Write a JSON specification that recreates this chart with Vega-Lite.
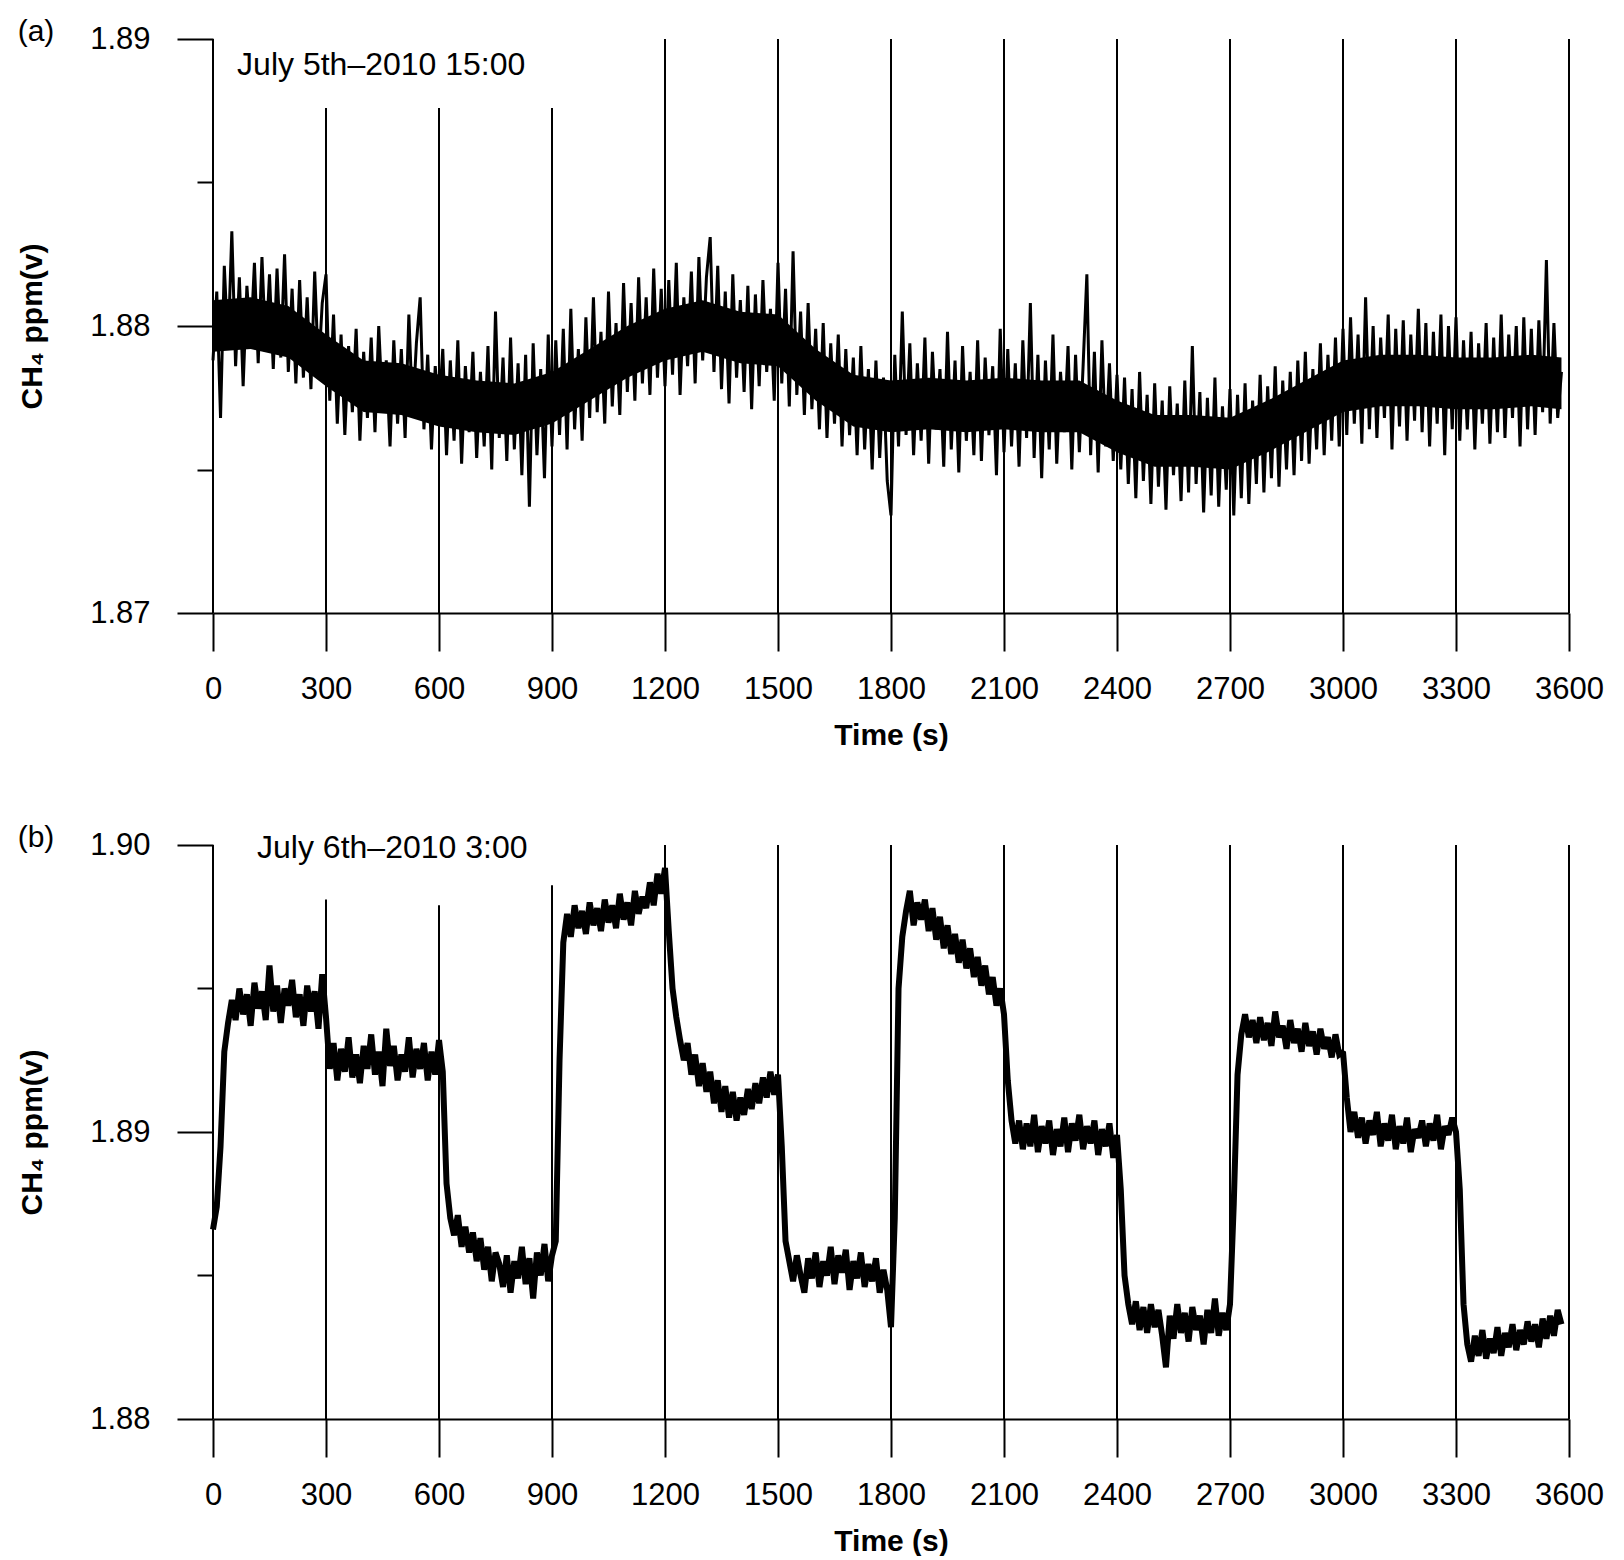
{
  "$schema": "https://vega.github.io/schema/vega-lite/v6.json",
  "background": "white",
  "padding": {"left": 17, "top": 17, "right": 20, "bottom": 0},
  "spacing": 73,
  "config": {
    "view": {"stroke": null},
    "font": "Liberation Sans",
    "axis": {
      "grid": false,
      "labelFont": "Liberation Sans", "labelFontSize": 31, "labelColor": "black",
      "titleFont": "Liberation Sans", "titleFontSize": 30, "titleFontWeight": "bold", "titleColor": "black",
      "tickColor": "black", "tickWidth": 2, "domainColor": "black", "domainWidth": 2,
      "labelOverlap": false
    },
    "axisX": {"tickSize": 38, "labelPadding": 23, "titlePadding": 16, "format": "d", "labelFlush": false},
    "axisY": {"labelPadding": 27, "titlePadding": 42, "domain": false},
    "title": {"font": "Liberation Sans", "fontSize": 30, "fontWeight": "normal", "color": "black", "anchor": "start", "frame": "bounds", "offset": 0, "dy": 28}
  },
  "datasets": {
    "linesA": [{"t":0,"top":1.89},{"t":300,"top":1.8876},{"t":600,"top":1.8876},{"t":900,"top":1.8876},{"t":1200,"top":1.89},{"t":1500,"top":1.89},{"t":1800,"top":1.89},{"t":2100,"top":1.89},{"t":2400,"top":1.89},{"t":2700,"top":1.89},{"t":3000,"top":1.89},{"t":3300,"top":1.89},{"t":3600,"top":1.89}],
    "linesB": [{"t":0,"top":1.9},{"t":300,"top":1.8981},{"t":600,"top":1.8979},{"t":900,"top":1.8986},{"t":1200,"top":1.9},{"t":1500,"top":1.9},{"t":1800,"top":1.9},{"t":2100,"top":1.9},{"t":2400,"top":1.9},{"t":2700,"top":1.9},{"t":3000,"top":1.9},{"t":3300,"top":1.9},{"t":3600,"top":1.9}],
    "bandA": [
{"t":0,"lo":1.8791,"hi":1.8809},{"t":100,"lo":1.8792,"hi":1.881},{"t":200,"lo":1.8789,"hi":1.8807},{"t":300,"lo":1.8779,"hi":1.8797},{"t":400,"lo":1.877,"hi":1.8788},{"t":500,"lo":1.8769,"hi":1.8787},{"t":600,"lo":1.8765,"hi":1.8783},{"t":700,"lo":1.8763,"hi":1.8781},{"t":800,"lo":1.8762,"hi":1.878},{"t":900,"lo":1.8766,"hi":1.8784},
{"t":1000,"lo":1.8774,"hi":1.8792},{"t":1100,"lo":1.8782,"hi":1.88},{"t":1200,"lo":1.8788,"hi":1.8806},{"t":1300,"lo":1.8791,"hi":1.8809},{"t":1400,"lo":1.8787,"hi":1.8805},{"t":1500,"lo":1.8786,"hi":1.8804},{"t":1600,"lo":1.8774,"hi":1.8792},{"t":1700,"lo":1.8765,"hi":1.8783},{"t":1800,"lo":1.8763,"hi":1.8781},{"t":1900,"lo":1.8764,"hi":1.8782},
{"t":2000,"lo":1.8763,"hi":1.8781},{"t":2100,"lo":1.8764,"hi":1.8782},{"t":2200,"lo":1.8763,"hi":1.8781},{"t":2300,"lo":1.8763,"hi":1.8781},{"t":2400,"lo":1.8756,"hi":1.8774},{"t":2500,"lo":1.8751,"hi":1.8769},{"t":2600,"lo":1.8751,"hi":1.8769},{"t":2700,"lo":1.875,"hi":1.8768},{"t":2800,"lo":1.8756,"hi":1.8774},{"t":2900,"lo":1.8763,"hi":1.8781},
{"t":3000,"lo":1.877,"hi":1.8788},{"t":3100,"lo":1.8772,"hi":1.879},{"t":3200,"lo":1.8772,"hi":1.879},{"t":3300,"lo":1.8771,"hi":1.8789},{"t":3400,"lo":1.8771,"hi":1.8789},{"t":3500,"lo":1.8772,"hi":1.879},{"t":3580,"lo":1.8771,"hi":1.8789}
    ],
    "seriesA": [
{"t":0,"ppm":1.8788},{"t":10,"ppm":1.8812},{"t":20,"ppm":1.8768},{"t":30,"ppm":1.8821},{"t":40,"ppm":1.8792},{"t":50,"ppm":1.8833},{"t":60,"ppm":1.8786},{"t":70,"ppm":1.8817},{"t":80,"ppm":1.8779},{"t":90,"ppm":1.8814},
{"t":100,"ppm":1.8794},{"t":110,"ppm":1.8822},{"t":120,"ppm":1.8787},{"t":130,"ppm":1.8824},{"t":140,"ppm":1.8791},{"t":150,"ppm":1.8818},{"t":160,"ppm":1.8785},{"t":170,"ppm":1.882},{"t":180,"ppm":1.8789},{"t":190,"ppm":1.8825},
{"t":200,"ppm":1.8784},{"t":210,"ppm":1.8813},{"t":220,"ppm":1.878},{"t":230,"ppm":1.8816},{"t":240,"ppm":1.8782},{"t":250,"ppm":1.881},{"t":260,"ppm":1.8778},{"t":270,"ppm":1.8819},{"t":280,"ppm":1.8784},{"t":290,"ppm":1.8808},
{"t":300,"ppm":1.8818},{"t":310,"ppm":1.8774},{"t":320,"ppm":1.8804},{"t":330,"ppm":1.8766},{"t":340,"ppm":1.8797},{"t":350,"ppm":1.8762},{"t":360,"ppm":1.8793},{"t":370,"ppm":1.877},{"t":380,"ppm":1.8799},{"t":390,"ppm":1.876},
{"t":400,"ppm":1.8791},{"t":410,"ppm":1.8768},{"t":420,"ppm":1.8796},{"t":430,"ppm":1.8763},{"t":440,"ppm":1.88},{"t":450,"ppm":1.8771},{"t":460,"ppm":1.8788},{"t":470,"ppm":1.8758},{"t":480,"ppm":1.8795},{"t":490,"ppm":1.8766},
{"t":500,"ppm":1.8792},{"t":510,"ppm":1.8761},{"t":520,"ppm":1.8804},{"t":530,"ppm":1.8769},{"t":540,"ppm":1.8794},{"t":550,"ppm":1.881},{"t":560,"ppm":1.8764},{"t":570,"ppm":1.879},{"t":580,"ppm":1.8757},{"t":590,"ppm":1.8786},
{"t":600,"ppm":1.877},{"t":610,"ppm":1.8792},{"t":620,"ppm":1.8755},{"t":630,"ppm":1.8788},{"t":640,"ppm":1.876},{"t":650,"ppm":1.8795},{"t":660,"ppm":1.8752},{"t":670,"ppm":1.8786},{"t":680,"ppm":1.8763},{"t":690,"ppm":1.8791},
{"t":700,"ppm":1.8754},{"t":710,"ppm":1.8784},{"t":720,"ppm":1.8758},{"t":730,"ppm":1.8793},{"t":740,"ppm":1.875},{"t":750,"ppm":1.8805},{"t":760,"ppm":1.8761},{"t":770,"ppm":1.8789},{"t":780,"ppm":1.8753},{"t":790,"ppm":1.8796},
{"t":800,"ppm":1.8757},{"t":810,"ppm":1.8787},{"t":820,"ppm":1.8748},{"t":830,"ppm":1.879},{"t":840,"ppm":1.8737},{"t":850,"ppm":1.8794},{"t":860,"ppm":1.8755},{"t":870,"ppm":1.8785},{"t":880,"ppm":1.8747},{"t":890,"ppm":1.8797},
{"t":900,"ppm":1.8758},{"t":910,"ppm":1.8795},{"t":920,"ppm":1.8762},{"t":930,"ppm":1.8799},{"t":940,"ppm":1.8757},{"t":950,"ppm":1.8806},{"t":960,"ppm":1.8764},{"t":970,"ppm":1.8792},{"t":980,"ppm":1.876},{"t":990,"ppm":1.8803},
{"t":1000,"ppm":1.8768},{"t":1010,"ppm":1.881},{"t":1020,"ppm":1.877},{"t":1030,"ppm":1.8798},{"t":1040,"ppm":1.8766},{"t":1050,"ppm":1.8812},{"t":1060,"ppm":1.8772},{"t":1070,"ppm":1.8801},{"t":1080,"ppm":1.8769},{"t":1090,"ppm":1.8815},
{"t":1100,"ppm":1.8777},{"t":1110,"ppm":1.8808},{"t":1120,"ppm":1.8774},{"t":1130,"ppm":1.8817},{"t":1140,"ppm":1.878},{"t":1150,"ppm":1.881},{"t":1160,"ppm":1.8776},{"t":1170,"ppm":1.882},{"t":1180,"ppm":1.8782},{"t":1190,"ppm":1.8813},
{"t":1200,"ppm":1.8779},{"t":1210,"ppm":1.8816},{"t":1220,"ppm":1.8783},{"t":1230,"ppm":1.8822},{"t":1240,"ppm":1.8776},{"t":1250,"ppm":1.881},{"t":1260,"ppm":1.8786},{"t":1270,"ppm":1.8819},{"t":1280,"ppm":1.878},{"t":1290,"ppm":1.8824},
{"t":1300,"ppm":1.8788},{"t":1310,"ppm":1.8817},{"t":1320,"ppm":1.8831},{"t":1330,"ppm":1.8784},{"t":1340,"ppm":1.8821},{"t":1350,"ppm":1.8778},{"t":1360,"ppm":1.8812},{"t":1370,"ppm":1.8773},{"t":1380,"ppm":1.8818},{"t":1390,"ppm":1.8782},
{"t":1400,"ppm":1.8809},{"t":1410,"ppm":1.8777},{"t":1420,"ppm":1.8814},{"t":1430,"ppm":1.8771},{"t":1440,"ppm":1.8811},{"t":1450,"ppm":1.8779},{"t":1460,"ppm":1.8816},{"t":1470,"ppm":1.8784},{"t":1480,"ppm":1.8806},{"t":1490,"ppm":1.8774},
{"t":1500,"ppm":1.8822},{"t":1510,"ppm":1.878},{"t":1520,"ppm":1.8813},{"t":1530,"ppm":1.8772},{"t":1540,"ppm":1.8826},{"t":1550,"ppm":1.8776},{"t":1560,"ppm":1.8805},{"t":1570,"ppm":1.8769},{"t":1580,"ppm":1.8808},{"t":1590,"ppm":1.8771},
{"t":1600,"ppm":1.8799},{"t":1610,"ppm":1.8764},{"t":1620,"ppm":1.8801},{"t":1630,"ppm":1.8761},{"t":1640,"ppm":1.8794},{"t":1650,"ppm":1.8766},{"t":1660,"ppm":1.8797},{"t":1670,"ppm":1.8758},{"t":1680,"ppm":1.8792},{"t":1690,"ppm":1.8762},
{"t":1700,"ppm":1.8789},{"t":1710,"ppm":1.8755},{"t":1720,"ppm":1.8793},{"t":1730,"ppm":1.8757},{"t":1740,"ppm":1.8785},{"t":1750,"ppm":1.875},{"t":1760,"ppm":1.8788},{"t":1770,"ppm":1.8754},{"t":1780,"ppm":1.8782},{"t":1790,"ppm":1.8746},
{"t":1800,"ppm":1.8734},{"t":1810,"ppm":1.879},{"t":1820,"ppm":1.8758},{"t":1830,"ppm":1.8805},{"t":1840,"ppm":1.8762},{"t":1850,"ppm":1.8794},{"t":1860,"ppm":1.8755},{"t":1870,"ppm":1.8787},{"t":1880,"ppm":1.876},{"t":1890,"ppm":1.8796},
{"t":1900,"ppm":1.8752},{"t":1910,"ppm":1.8791},{"t":1920,"ppm":1.8764},{"t":1930,"ppm":1.8785},{"t":1940,"ppm":1.8751},{"t":1950,"ppm":1.8798},{"t":1960,"ppm":1.8757},{"t":1970,"ppm":1.8788},{"t":1980,"ppm":1.8749},{"t":1990,"ppm":1.8793},
{"t":2000,"ppm":1.876},{"t":2010,"ppm":1.8784},{"t":2020,"ppm":1.8755},{"t":2030,"ppm":1.8795},{"t":2040,"ppm":1.8753},{"t":2050,"ppm":1.8789},{"t":2060,"ppm":1.8762},{"t":2070,"ppm":1.8786},{"t":2080,"ppm":1.8748},{"t":2090,"ppm":1.8799},
{"t":2100,"ppm":1.8756},{"t":2110,"ppm":1.8792},{"t":2120,"ppm":1.8758},{"t":2130,"ppm":1.8787},{"t":2140,"ppm":1.8751},{"t":2150,"ppm":1.8795},{"t":2160,"ppm":1.8761},{"t":2170,"ppm":1.8808},{"t":2180,"ppm":1.8754},{"t":2190,"ppm":1.879},
{"t":2200,"ppm":1.8747},{"t":2210,"ppm":1.8788},{"t":2220,"ppm":1.8757},{"t":2230,"ppm":1.8797},{"t":2240,"ppm":1.8752},{"t":2250,"ppm":1.8784},{"t":2260,"ppm":1.8763},{"t":2270,"ppm":1.8793},{"t":2280,"ppm":1.875},{"t":2290,"ppm":1.879},
{"t":2300,"ppm":1.8756},{"t":2310,"ppm":1.8786},{"t":2320,"ppm":1.8818},{"t":2330,"ppm":1.8755},{"t":2340,"ppm":1.8791},{"t":2350,"ppm":1.8749},{"t":2360,"ppm":1.8795},{"t":2370,"ppm":1.8758},{"t":2380,"ppm":1.8787},{"t":2390,"ppm":1.8753},
{"t":2400,"ppm":1.8783},{"t":2410,"ppm":1.875},{"t":2420,"ppm":1.8782},{"t":2430,"ppm":1.8745},{"t":2440,"ppm":1.8778},{"t":2450,"ppm":1.874},{"t":2460,"ppm":1.8784},{"t":2470,"ppm":1.8746},{"t":2480,"ppm":1.8776},{"t":2490,"ppm":1.8738},
{"t":2500,"ppm":1.878},{"t":2510,"ppm":1.8744},{"t":2520,"ppm":1.8774},{"t":2530,"ppm":1.8736},{"t":2540,"ppm":1.8779},{"t":2550,"ppm":1.8748},{"t":2560,"ppm":1.8773},{"t":2570,"ppm":1.8739},{"t":2580,"ppm":1.8781},{"t":2590,"ppm":1.8742},
{"t":2600,"ppm":1.8793},{"t":2610,"ppm":1.8745},{"t":2620,"ppm":1.8777},{"t":2630,"ppm":1.8735},{"t":2640,"ppm":1.8775},{"t":2650,"ppm":1.8741},{"t":2660,"ppm":1.8782},{"t":2670,"ppm":1.8737},{"t":2680,"ppm":1.8772},{"t":2690,"ppm":1.8743},
{"t":2700,"ppm":1.8778},{"t":2710,"ppm":1.8734},{"t":2720,"ppm":1.8776},{"t":2730,"ppm":1.874},{"t":2740,"ppm":1.878},{"t":2750,"ppm":1.8738},{"t":2760,"ppm":1.8774},{"t":2770,"ppm":1.8745},{"t":2780,"ppm":1.8783},{"t":2790,"ppm":1.8742},
{"t":2800,"ppm":1.8779},{"t":2810,"ppm":1.8747},{"t":2820,"ppm":1.8786},{"t":2830,"ppm":1.8744},{"t":2840,"ppm":1.8781},{"t":2850,"ppm":1.875},{"t":2860,"ppm":1.8784},{"t":2870,"ppm":1.8748},{"t":2880,"ppm":1.8788},{"t":2890,"ppm":1.8753},
{"t":2900,"ppm":1.8791},{"t":2910,"ppm":1.8752},{"t":2920,"ppm":1.8785},{"t":2930,"ppm":1.8757},{"t":2940,"ppm":1.8794},{"t":2950,"ppm":1.8755},{"t":2960,"ppm":1.879},{"t":2970,"ppm":1.876},{"t":2980,"ppm":1.8796},{"t":2990,"ppm":1.8758},
{"t":3000,"ppm":1.8799},{"t":3010,"ppm":1.8762},{"t":3020,"ppm":1.8803},{"t":3030,"ppm":1.8766},{"t":3040,"ppm":1.8797},{"t":3050,"ppm":1.8759},{"t":3060,"ppm":1.881},{"t":3070,"ppm":1.8764},{"t":3080,"ppm":1.88},{"t":3090,"ppm":1.8761},
{"t":3100,"ppm":1.8796},{"t":3110,"ppm":1.8768},{"t":3120,"ppm":1.8804},{"t":3130,"ppm":1.8757},{"t":3140,"ppm":1.8799},{"t":3150,"ppm":1.8765},{"t":3160,"ppm":1.8802},{"t":3170,"ppm":1.876},{"t":3180,"ppm":1.8797},{"t":3190,"ppm":1.8767},
{"t":3200,"ppm":1.8806},{"t":3210,"ppm":1.8763},{"t":3220,"ppm":1.8801},{"t":3230,"ppm":1.8758},{"t":3240,"ppm":1.8798},{"t":3250,"ppm":1.8766},{"t":3260,"ppm":1.8804},{"t":3270,"ppm":1.8755},{"t":3280,"ppm":1.88},{"t":3290,"ppm":1.8764},
{"t":3300,"ppm":1.8803},{"t":3310,"ppm":1.876},{"t":3320,"ppm":1.8795},{"t":3330,"ppm":1.8764},{"t":3340,"ppm":1.8798},{"t":3350,"ppm":1.8757},{"t":3360,"ppm":1.8794},{"t":3370,"ppm":1.8766},{"t":3380,"ppm":1.8801},{"t":3390,"ppm":1.8759},
{"t":3400,"ppm":1.8796},{"t":3410,"ppm":1.8763},{"t":3420,"ppm":1.8804},{"t":3430,"ppm":1.8761},{"t":3440,"ppm":1.8797},{"t":3450,"ppm":1.8768},{"t":3460,"ppm":1.88},{"t":3470,"ppm":1.8758},{"t":3480,"ppm":1.8803},{"t":3490,"ppm":1.8764},
{"t":3500,"ppm":1.8799},{"t":3510,"ppm":1.8762},{"t":3520,"ppm":1.8802},{"t":3530,"ppm":1.877},{"t":3540,"ppm":1.8823},{"t":3550,"ppm":1.8766},{"t":3560,"ppm":1.8801},{"t":3570,"ppm":1.8768},{"t":3580,"ppm":1.8784}
    ],
    "seriesB": [
{"t":0,"ppm":1.8866},{"t":10,"ppm":1.8874},{"t":20,"ppm":1.8895},{"t":30,"ppm":1.8928},{"t":40,"ppm":1.8938},{"t":50,"ppm":1.8946},{"t":60,"ppm":1.8939},{"t":70,"ppm":1.895},{"t":80,"ppm":1.8941},{"t":90,"ppm":1.8948},
{"t":100,"ppm":1.8937},{"t":110,"ppm":1.8952},{"t":120,"ppm":1.8943},{"t":130,"ppm":1.8949},{"t":140,"ppm":1.8939},{"t":150,"ppm":1.8958},{"t":160,"ppm":1.8942},{"t":170,"ppm":1.8951},{"t":180,"ppm":1.8938},{"t":190,"ppm":1.895},
{"t":200,"ppm":1.8944},{"t":210,"ppm":1.8953},{"t":220,"ppm":1.894},{"t":230,"ppm":1.8948},{"t":240,"ppm":1.8937},{"t":250,"ppm":1.8951},{"t":260,"ppm":1.8942},{"t":270,"ppm":1.8949},{"t":280,"ppm":1.8936},{"t":290,"ppm":1.8955},
{"t":300,"ppm":1.894},{"t":310,"ppm":1.8922},{"t":320,"ppm":1.8931},{"t":330,"ppm":1.8918},{"t":340,"ppm":1.8929},{"t":350,"ppm":1.8921},{"t":360,"ppm":1.8933},{"t":370,"ppm":1.8919},{"t":380,"ppm":1.8927},{"t":390,"ppm":1.8917},
{"t":400,"ppm":1.893},{"t":410,"ppm":1.8922},{"t":420,"ppm":1.8934},{"t":430,"ppm":1.892},{"t":440,"ppm":1.8928},{"t":450,"ppm":1.8916},{"t":460,"ppm":1.8936},{"t":470,"ppm":1.8923},{"t":480,"ppm":1.893},{"t":490,"ppm":1.8918},
{"t":500,"ppm":1.8927},{"t":510,"ppm":1.8921},{"t":520,"ppm":1.8933},{"t":530,"ppm":1.8919},{"t":540,"ppm":1.8929},{"t":550,"ppm":1.8922},{"t":560,"ppm":1.8931},{"t":570,"ppm":1.8918},{"t":580,"ppm":1.8928},{"t":590,"ppm":1.892},
{"t":600,"ppm":1.8932},{"t":610,"ppm":1.8921},{"t":620,"ppm":1.8882},{"t":630,"ppm":1.887},{"t":640,"ppm":1.8864},{"t":650,"ppm":1.8871},{"t":660,"ppm":1.886},{"t":670,"ppm":1.8867},{"t":680,"ppm":1.8858},{"t":690,"ppm":1.8865},
{"t":700,"ppm":1.8855},{"t":710,"ppm":1.8863},{"t":720,"ppm":1.8852},{"t":730,"ppm":1.886},{"t":740,"ppm":1.8848},{"t":750,"ppm":1.8858},{"t":760,"ppm":1.8854},{"t":770,"ppm":1.8846},{"t":780,"ppm":1.8857},{"t":790,"ppm":1.8844},
{"t":800,"ppm":1.8855},{"t":810,"ppm":1.8849},{"t":820,"ppm":1.886},{"t":830,"ppm":1.8847},{"t":840,"ppm":1.8856},{"t":850,"ppm":1.8842},{"t":860,"ppm":1.8858},{"t":870,"ppm":1.885},{"t":880,"ppm":1.8861},{"t":890,"ppm":1.8848},
{"t":900,"ppm":1.8857},{"t":910,"ppm":1.8862},{"t":920,"ppm":1.8925},{"t":930,"ppm":1.8966},{"t":940,"ppm":1.8976},{"t":950,"ppm":1.8968},{"t":960,"ppm":1.8979},{"t":970,"ppm":1.8971},{"t":980,"ppm":1.8977},{"t":990,"ppm":1.8969},
{"t":1000,"ppm":1.898},{"t":1010,"ppm":1.8972},{"t":1020,"ppm":1.8978},{"t":1030,"ppm":1.897},{"t":1040,"ppm":1.8981},{"t":1050,"ppm":1.8973},{"t":1060,"ppm":1.8979},{"t":1070,"ppm":1.8971},{"t":1080,"ppm":1.8983},{"t":1090,"ppm":1.8974},
{"t":1100,"ppm":1.898},{"t":1110,"ppm":1.8972},{"t":1120,"ppm":1.8984},{"t":1130,"ppm":1.8976},{"t":1140,"ppm":1.8982},{"t":1150,"ppm":1.8978},{"t":1160,"ppm":1.8987},{"t":1170,"ppm":1.8979},{"t":1180,"ppm":1.899},{"t":1190,"ppm":1.8983},
{"t":1200,"ppm":1.8992},{"t":1210,"ppm":1.897},{"t":1220,"ppm":1.895},{"t":1230,"ppm":1.894},{"t":1240,"ppm":1.8932},{"t":1250,"ppm":1.8925},{"t":1260,"ppm":1.8931},{"t":1270,"ppm":1.892},{"t":1280,"ppm":1.8927},{"t":1290,"ppm":1.8916},
{"t":1300,"ppm":1.8924},{"t":1310,"ppm":1.8914},{"t":1320,"ppm":1.8921},{"t":1330,"ppm":1.891},{"t":1340,"ppm":1.8918},{"t":1350,"ppm":1.8907},{"t":1360,"ppm":1.8916},{"t":1370,"ppm":1.8905},{"t":1380,"ppm":1.8914},{"t":1390,"ppm":1.8904},
{"t":1400,"ppm":1.8912},{"t":1410,"ppm":1.8906},{"t":1420,"ppm":1.8915},{"t":1430,"ppm":1.8908},{"t":1440,"ppm":1.8917},{"t":1450,"ppm":1.891},{"t":1460,"ppm":1.8919},{"t":1470,"ppm":1.8912},{"t":1480,"ppm":1.8921},{"t":1490,"ppm":1.8913},
{"t":1500,"ppm":1.892},{"t":1510,"ppm":1.8895},{"t":1520,"ppm":1.8862},{"t":1530,"ppm":1.8855},{"t":1540,"ppm":1.8848},{"t":1550,"ppm":1.8857},{"t":1560,"ppm":1.885},{"t":1570,"ppm":1.8844},{"t":1580,"ppm":1.8856},{"t":1590,"ppm":1.8849},
{"t":1600,"ppm":1.8858},{"t":1610,"ppm":1.8846},{"t":1620,"ppm":1.8855},{"t":1630,"ppm":1.885},{"t":1640,"ppm":1.886},{"t":1650,"ppm":1.8847},{"t":1660,"ppm":1.8857},{"t":1670,"ppm":1.8851},{"t":1680,"ppm":1.8859},{"t":1690,"ppm":1.8845},
{"t":1700,"ppm":1.8855},{"t":1710,"ppm":1.8849},{"t":1720,"ppm":1.8858},{"t":1730,"ppm":1.8846},{"t":1740,"ppm":1.8854},{"t":1750,"ppm":1.8848},{"t":1760,"ppm":1.8856},{"t":1770,"ppm":1.8844},{"t":1780,"ppm":1.8852},{"t":1790,"ppm":1.8845},
{"t":1800,"ppm":1.8832},{"t":1810,"ppm":1.887},{"t":1820,"ppm":1.895},{"t":1830,"ppm":1.8968},{"t":1840,"ppm":1.8977},{"t":1850,"ppm":1.8984},{"t":1860,"ppm":1.8972},{"t":1870,"ppm":1.898},{"t":1880,"ppm":1.8974},{"t":1890,"ppm":1.8981},
{"t":1900,"ppm":1.897},{"t":1910,"ppm":1.8978},{"t":1920,"ppm":1.8967},{"t":1930,"ppm":1.8975},{"t":1940,"ppm":1.8964},{"t":1950,"ppm":1.8972},{"t":1960,"ppm":1.8962},{"t":1970,"ppm":1.8969},{"t":1980,"ppm":1.8959},{"t":1990,"ppm":1.8967},
{"t":2000,"ppm":1.8957},{"t":2010,"ppm":1.8964},{"t":2020,"ppm":1.8954},{"t":2030,"ppm":1.8961},{"t":2040,"ppm":1.8951},{"t":2050,"ppm":1.8958},{"t":2060,"ppm":1.8948},{"t":2070,"ppm":1.8954},{"t":2080,"ppm":1.8944},{"t":2090,"ppm":1.895},
{"t":2100,"ppm":1.8941},{"t":2110,"ppm":1.8918},{"t":2120,"ppm":1.8904},{"t":2130,"ppm":1.8896},{"t":2140,"ppm":1.8904},{"t":2150,"ppm":1.8894},{"t":2160,"ppm":1.8903},{"t":2170,"ppm":1.8895},{"t":2180,"ppm":1.8906},{"t":2190,"ppm":1.8893},
{"t":2200,"ppm":1.8902},{"t":2210,"ppm":1.8896},{"t":2220,"ppm":1.8904},{"t":2230,"ppm":1.8892},{"t":2240,"ppm":1.8901},{"t":2250,"ppm":1.8895},{"t":2260,"ppm":1.8905},{"t":2270,"ppm":1.8893},{"t":2280,"ppm":1.8903},{"t":2290,"ppm":1.8897},
{"t":2300,"ppm":1.8906},{"t":2310,"ppm":1.8894},{"t":2320,"ppm":1.8902},{"t":2330,"ppm":1.8896},{"t":2340,"ppm":1.8904},{"t":2350,"ppm":1.8892},{"t":2360,"ppm":1.8901},{"t":2370,"ppm":1.8895},{"t":2380,"ppm":1.8903},{"t":2390,"ppm":1.8891},
{"t":2400,"ppm":1.8899},{"t":2410,"ppm":1.888},{"t":2420,"ppm":1.885},{"t":2430,"ppm":1.884},{"t":2440,"ppm":1.8833},{"t":2450,"ppm":1.8841},{"t":2460,"ppm":1.8831},{"t":2470,"ppm":1.8839},{"t":2480,"ppm":1.883},{"t":2490,"ppm":1.884},
{"t":2500,"ppm":1.8832},{"t":2510,"ppm":1.8838},{"t":2520,"ppm":1.8829},{"t":2530,"ppm":1.8818},{"t":2540,"ppm":1.8836},{"t":2550,"ppm":1.8828},{"t":2560,"ppm":1.884},{"t":2570,"ppm":1.883},{"t":2580,"ppm":1.8837},{"t":2590,"ppm":1.8827},
{"t":2600,"ppm":1.8839},{"t":2610,"ppm":1.8831},{"t":2620,"ppm":1.8836},{"t":2630,"ppm":1.8826},{"t":2640,"ppm":1.8838},{"t":2650,"ppm":1.883},{"t":2660,"ppm":1.8842},{"t":2670,"ppm":1.8829},{"t":2680,"ppm":1.8837},{"t":2690,"ppm":1.8831},
{"t":2700,"ppm":1.884},{"t":2710,"ppm":1.8875},{"t":2720,"ppm":1.892},{"t":2730,"ppm":1.8934},{"t":2740,"ppm":1.8941},{"t":2750,"ppm":1.8933},{"t":2760,"ppm":1.8939},{"t":2770,"ppm":1.8931},{"t":2780,"ppm":1.894},{"t":2790,"ppm":1.8932},
{"t":2800,"ppm":1.8938},{"t":2810,"ppm":1.893},{"t":2820,"ppm":1.8942},{"t":2830,"ppm":1.8933},{"t":2840,"ppm":1.8937},{"t":2850,"ppm":1.8929},{"t":2860,"ppm":1.8939},{"t":2870,"ppm":1.8931},{"t":2880,"ppm":1.8936},{"t":2890,"ppm":1.8928},
{"t":2900,"ppm":1.8938},{"t":2910,"ppm":1.893},{"t":2920,"ppm":1.8935},{"t":2930,"ppm":1.8927},{"t":2940,"ppm":1.8936},{"t":2950,"ppm":1.8929},{"t":2960,"ppm":1.8933},{"t":2970,"ppm":1.8926},{"t":2980,"ppm":1.8934},{"t":2990,"ppm":1.8927},
{"t":3000,"ppm":1.8928},{"t":3010,"ppm":1.8912},{"t":3020,"ppm":1.89},{"t":3030,"ppm":1.8907},{"t":3040,"ppm":1.8898},{"t":3050,"ppm":1.8905},{"t":3060,"ppm":1.8896},{"t":3070,"ppm":1.8904},{"t":3080,"ppm":1.8899},{"t":3090,"ppm":1.8907},
{"t":3100,"ppm":1.8895},{"t":3110,"ppm":1.8903},{"t":3120,"ppm":1.8897},{"t":3130,"ppm":1.8906},{"t":3140,"ppm":1.8894},{"t":3150,"ppm":1.8902},{"t":3160,"ppm":1.8896},{"t":3170,"ppm":1.8905},{"t":3180,"ppm":1.8893},{"t":3190,"ppm":1.8901},
{"t":3200,"ppm":1.8898},{"t":3210,"ppm":1.8904},{"t":3220,"ppm":1.8895},{"t":3230,"ppm":1.8903},{"t":3240,"ppm":1.8897},{"t":3250,"ppm":1.8906},{"t":3260,"ppm":1.8894},{"t":3270,"ppm":1.8902},{"t":3280,"ppm":1.8899},{"t":3290,"ppm":1.8905},
{"t":3300,"ppm":1.89},{"t":3310,"ppm":1.888},{"t":3320,"ppm":1.884},{"t":3330,"ppm":1.8826},{"t":3340,"ppm":1.882},{"t":3350,"ppm":1.8829},{"t":3360,"ppm":1.8822},{"t":3370,"ppm":1.8831},{"t":3380,"ppm":1.8821},{"t":3390,"ppm":1.8828},
{"t":3400,"ppm":1.8823},{"t":3410,"ppm":1.8832},{"t":3420,"ppm":1.8822},{"t":3430,"ppm":1.883},{"t":3440,"ppm":1.8825},{"t":3450,"ppm":1.8833},{"t":3460,"ppm":1.8824},{"t":3470,"ppm":1.8831},{"t":3480,"ppm":1.8826},{"t":3490,"ppm":1.8834},
{"t":3500,"ppm":1.8827},{"t":3510,"ppm":1.8833},{"t":3520,"ppm":1.8825},{"t":3530,"ppm":1.8835},{"t":3540,"ppm":1.8828},{"t":3550,"ppm":1.8836},{"t":3560,"ppm":1.8829},{"t":3570,"ppm":1.8838},{"t":3580,"ppm":1.8833}
    ]
  },
  "vconcat": [
    {
      "width": 1356,
      "height": 574,
      "title": {"text": "(a)"},
      "layer": [
        {
          "data": {"name": "linesA"},
          "mark": {"type": "rule", "color": "black", "strokeWidth": 2},
          "encoding": {
            "x": {"field": "t", "type": "quantitative", "title": "Time (s)",
                  "scale": {"domain": [0, 3600], "nice": false},
                  "axis": {"values": [0,300,600,900,1200,1500,1800,2100,2400,2700,3000,3300,3600]}},
            "y": {"field": "top", "type": "quantitative", "title": "CH₄ ppm(v)",
                  "scale": {"domain": [1.87, 1.89], "nice": false, "zero": false},
                  "axis": {"values": [1.87,1.875,1.88,1.885,1.89],
                           "tickSize": {"condition": {"test": "abs(datum.value*100 - round(datum.value*100)) < 0.01", "value": 36}, "value": 16},
                           "labelExpr": "abs(datum.value*100 - round(datum.value*100)) < 0.01 ? format(datum.value, '.2f') : ''"}},
            "y2": {"datum": 1.87}
          }
        },
        {
          "data": {"name": "bandA"},
          "mark": {"type": "area", "color": "black", "opacity": 1},
          "encoding": {
            "x": {"field": "t", "type": "quantitative", "title": "Time (s)"},
            "y": {"field": "lo", "type": "quantitative", "title": "CH₄ ppm(v)"},
            "y2": {"field": "hi"}
          }
        },
        {
          "data": {"name": "seriesA"},
          "mark": {"type": "line", "color": "black", "strokeWidth": 3, "strokeJoin": "miter", "strokeMiterLimit": 2},
          "encoding": {
            "x": {"field": "t", "type": "quantitative", "title": "Time (s)"},
            "y": {"field": "ppm", "type": "quantitative", "title": "CH₄ ppm(v)"}
          }
        },
        {
          "data": {"values": [{"label": "July 5th–2010 15:00"}]},
          "mark": {"type": "text", "align": "left", "baseline": "middle", "fontSize": 32, "font": "Liberation Sans", "color": "black"},
          "encoding": {
            "x": {"datum": 64, "type": "quantitative", "title": "Time (s)"},
            "y": {"datum": 1.8891, "type": "quantitative", "title": "CH₄ ppm(v)"},
            "text": {"field": "label"}
          }
        }
      ]
    },
    {
      "width": 1356,
      "height": 574,
      "title": {"text": "(b)"},
      "layer": [
        {
          "data": {"name": "linesB"},
          "mark": {"type": "rule", "color": "black", "strokeWidth": 2},
          "encoding": {
            "x": {"field": "t", "type": "quantitative", "title": "Time (s)",
                  "scale": {"domain": [0, 3600], "nice": false},
                  "axis": {"values": [0,300,600,900,1200,1500,1800,2100,2400,2700,3000,3300,3600]}},
            "y": {"field": "top", "type": "quantitative", "title": "CH₄ ppm(v)",
                  "scale": {"domain": [1.88, 1.90], "nice": false, "zero": false},
                  "axis": {"values": [1.88,1.885,1.89,1.895,1.9],
                           "tickSize": {"condition": {"test": "abs(datum.value*100 - round(datum.value*100)) < 0.01", "value": 36}, "value": 16},
                           "labelExpr": "abs(datum.value*100 - round(datum.value*100)) < 0.01 ? format(datum.value, '.2f') : ''"}},
            "y2": {"datum": 1.88}
          }
        },
        {
          "data": {"name": "seriesB"},
          "mark": {"type": "line", "color": "black", "strokeWidth": 6, "strokeJoin": "miter", "strokeMiterLimit": 2},
          "encoding": {
            "x": {"field": "t", "type": "quantitative", "title": "Time (s)"},
            "y": {"field": "ppm", "type": "quantitative", "title": "CH₄ ppm(v)"}
          }
        },
        {
          "data": {"values": [{"label": "July 6th–2010 3:00"}]},
          "mark": {"type": "text", "align": "left", "baseline": "middle", "fontSize": 32, "font": "Liberation Sans", "color": "black"},
          "encoding": {
            "x": {"datum": 117, "type": "quantitative", "title": "Time (s)"},
            "y": {"datum": 1.8999, "type": "quantitative", "title": "CH₄ ppm(v)"},
            "text": {"field": "label"}
          }
        }
      ]
    }
  ]
}
